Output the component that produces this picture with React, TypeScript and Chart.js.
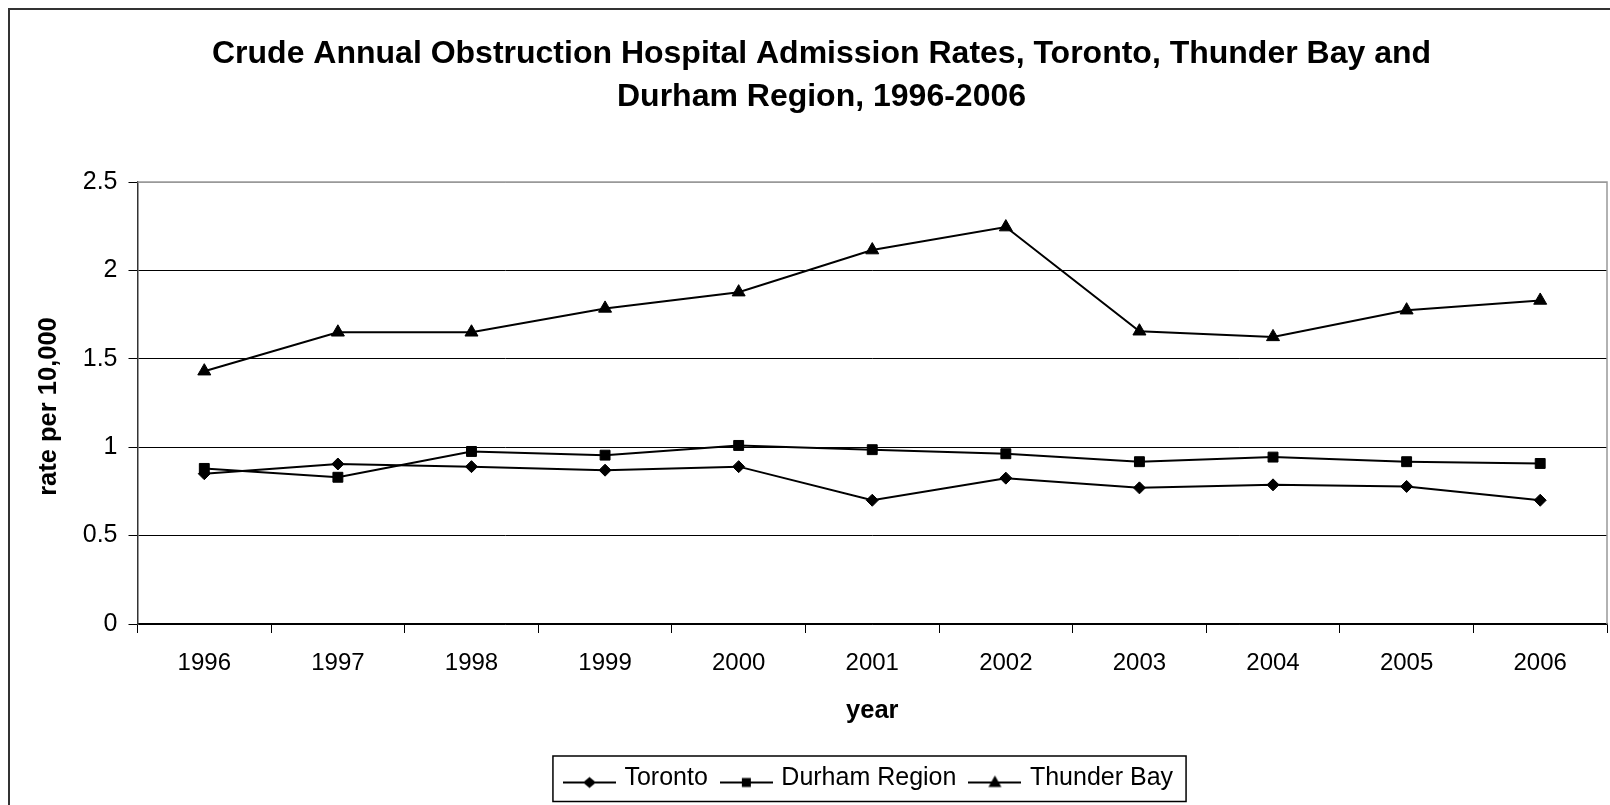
import React, { useEffect, useRef } from 'react';
import { Chart, registerables } from 'chart.js';

Chart.register(...registerables);

const years = ['1996', '1997', '1998', '1999', '2000', '2001', '2002', '2003', '2004', '2005', '2006'];
const toronto = [0.85, 0.905, 0.89, 0.87, 0.89, 0.70, 0.825, 0.77, 0.787, 0.778, 0.70];
const durham = [0.88, 0.83, 0.976, 0.955, 1.01, 0.986, 0.963, 0.918, 0.944, 0.918, 0.908];
const thunderBay = [1.43, 1.65, 1.65, 1.785, 1.877, 2.115, 2.245, 1.656, 1.624, 1.775, 1.83];
const seriesNames = ['Toronto', 'Durham Region', 'Thunder Bay'];
const titleLines = [
  'Crude Annual Obstruction Hospital Admission Rates, Toronto, Thunder Bay and',
  'Durham Region, 1996-2006',
];
const yAxisTitle = 'rate per 10,000 ';
const xAxisTitle = 'year';
const yMin = 0;
const yMax = 2.5;
const yStep = 0.5;

const FONT = '"Liberation Sans", Arial, Helvetica, sans-serif';

function makeLegendIcon(style: string): HTMLCanvasElement {
  const W = 53;
  const H = 28;
  const cy = 18;
  const cx = W / 2;
  const c = document.createElement('canvas');
  c.width = W;
  c.height = H;
  const g = c.getContext('2d')!;
  g.strokeStyle = '#000';
  g.lineWidth = 2;
  g.beginPath();
  g.moveTo(0, cy);
  g.lineTo(W, cy);
  g.stroke();
  g.fillStyle = '#000';
  g.beginPath();
  if (style === 'diamond') {
    g.moveTo(cx, cy - 5.5);
    g.lineTo(cx + 6.5, cy);
    g.lineTo(cx, cy + 5.5);
    g.lineTo(cx - 6.5, cy);
    g.closePath();
  } else if (style === 'square') {
    g.rect(cx - 4.5, cy - 4.5, 9, 9);
  } else {
    g.moveTo(cx, cy - 7);
    g.lineTo(cx + 6.5, cy + 4.5);
    g.lineTo(cx - 6.5, cy + 4.5);
    g.closePath();
  }
  g.fill();
  return c;
}

const framePlugin = {
  id: 'frame',
  afterLayout(chart: any) {
    if (chart.titleBlock) chart.titleBlock.left = 36;
    if (chart.legend) chart.legend.left = 133;
  },
  beforeDraw(chart: any) {
    const ctx = chart.ctx;
    ctx.save();
    ctx.fillStyle = '#fff';
    ctx.fillRect(0, 0, chart.width, chart.height);
    ctx.strokeStyle = '#333';
    ctx.lineWidth = 2;
    ctx.beginPath();
    ctx.moveTo(9, chart.height);
    ctx.lineTo(9, 9);
    ctx.lineTo(chart.width, 9);
    ctx.stroke();
    ctx.restore();
  },
  afterDraw(chart: any) {
    const ctx = chart.ctx;
    const a = chart.chartArea;
    ctx.save();
    ctx.strokeStyle = '#999';
    ctx.lineWidth = 1.5;
    ctx.beginPath();
    ctx.moveTo(a.left, a.top);
    ctx.lineTo(a.right, a.top);
    ctx.lineTo(a.right, a.bottom);
    ctx.stroke();
    const hb = chart.legend && chart.legend.legendHitBoxes;
    if (hb && hb.length) {
      const first = hb[0];
      const last = hb[hb.length - 1];
      const x0 = first.left - 14;
      const x1 = last.left + last.width + 13;
      const y0 = first.top - 10;
      const y1 = first.top + 35.5;
      ctx.strokeStyle = '#000';
      ctx.lineWidth = 1.5;
      ctx.strokeRect(x0, y0, x1 - x0, y1 - y0);
    }
    ctx.restore();
  },
};

export default function App() {
  const ref = useRef<HTMLCanvasElement | null>(null);

  useEffect(() => {
    if (!ref.current) return;
    const icons = [makeLegendIcon('diamond'), makeLegendIcon('square'), makeLegendIcon('triangle')];
    const common = {
      borderColor: '#000',
      backgroundColor: '#000',
      pointBackgroundColor: '#000',
      pointBorderColor: '#000',
      borderWidth: 2,
      pointBorderWidth: 1,
      tension: 0,
      fill: false,
    };
    const chart = new Chart(ref.current, {
      type: 'line',
      data: {
        labels: years,
        datasets: [
          { ...common, label: seriesNames[0], data: toronto, pointStyle: 'rectRot', pointRadius: 6 },
          { ...common, label: seriesNames[1], data: durham, pointStyle: 'rect', pointRadius: 7 },
          { ...common, label: seriesNames[2], data: thunderBay, pointStyle: 'triangle', pointRadius: 7.5 },
        ],
      },
      options: {
        responsive: false,
        animation: false,
        devicePixelRatio: 1,
        layout: { autoPadding: false, padding: { left: 0, right: 3, top: 0, bottom: 4 } },
        plugins: {
          tooltip: { enabled: false },
          title: {
            display: true,
            text: titleLines,
            color: '#000',
            font: { family: FONT, size: 32, weight: 'bold', lineHeight: 43 / 32 },
            padding: { top: 32.5, bottom: 63.5 },
          },
          legend: {
            display: true,
            position: 'bottom',
            labels: {
              usePointStyle: true,
              pointStyleWidth: 45,
              padding: 16,
              color: '#000',
              font: { family: FONT, size: 25 },
              generateLabels: (c: any) => {
                const items = (Chart.defaults.plugins.legend.labels as any).generateLabels(c);
                return items.map((it: any, i: number) => ({ ...it, pointStyle: icons[i] }));
              },
            },
          },
        },
        scales: {
          x: {
            type: 'category',
            offset: true,
            afterFit: (s: any) => {
              s.height = 126;
              s.paddingLeft = 0;
              s.paddingRight = 0;
            },
            grid: {
              offset: true,
              drawOnChartArea: false,
              drawTicks: true,
              tickLength: 9,
              color: '#000',
            },
            border: { color: '#000', width: 1.5 },
            ticks: {
              color: '#000',
              padding: 16,
              font: { family: FONT, size: 24 },
              maxRotation: 0,
              autoSkip: false,
            },
            title: {
              display: true,
              text: xAxisTitle,
              color: '#000',
              font: { family: FONT, size: 25.5, weight: 'bold' },
              padding: { top: 0, bottom: 23.7 },
            },
          },
          y: {
            min: yMin,
            max: yMax,
            afterFit: (s: any) => {
              s.width = 137.5;
            },
            grid: {
              color: (c: any) => (c.tick && c.tick.value === yMax ? '#999' : '#000'),
              tickColor: '#000',
              lineWidth: 1,
              tickLength: 9,
            },
            border: { color: '#333', width: 1.5 },
            ticks: {
              stepSize: yStep,
              color: '#000',
              padding: 11,
              font: { family: FONT, size: 25 },
              callback: (v: any) => String(Math.round(Number(v) * 10) / 10),
            },
            title: {
              display: true,
              text: yAxisTitle,
              color: '#000',
              font: { family: FONT, size: 25.5, weight: 'bold' },
              padding: { top: 33.7, bottom: 0 },
            },
          },
        },
      },
      plugins: [framePlugin],
    } as any);
    return () => chart.destroy();
  }, []);

  return (
    <div style={{ position: 'fixed', left: 0, top: 0, width: 1610, height: 805, background: '#fff', overflow: 'hidden' }}>
      <canvas ref={ref} width={1610} height={805} style={{ display: 'block', width: 1610, height: 805 }} />
    </div>
  );
}
